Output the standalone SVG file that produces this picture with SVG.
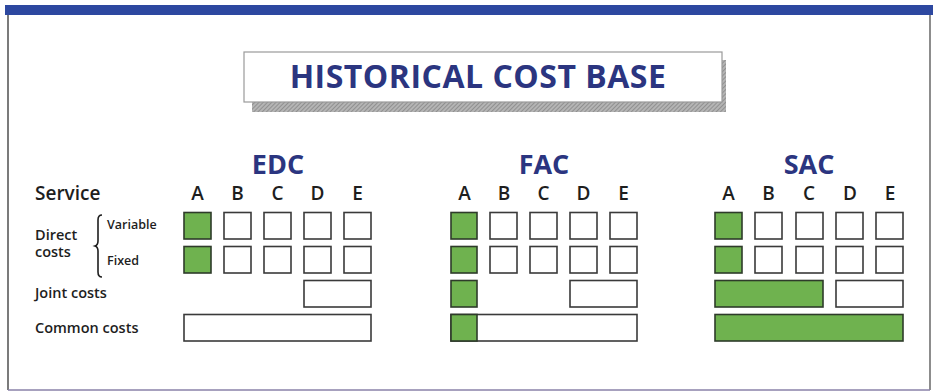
<svg xmlns="http://www.w3.org/2000/svg" width="936" height="392" viewBox="0 0 936 392">
<defs>
<pattern id="hatch" width="3" height="3" patternUnits="userSpaceOnUse" patternTransform="rotate(45)">
<rect width="3" height="3" fill="#b4b4b4"/>
<line x1="0" y1="0" x2="0" y2="3" stroke="#777777" stroke-width="1.2"/>
</pattern>
</defs>
<style>
text{font-family:"Open Sans","Noto Sans","Liberation Sans",sans-serif;font-weight:600;fill:#1e1e1e}
.title{font-size:32px;font-weight:700;fill:#2b3580;letter-spacing:0.5px}
.head{font-size:27px;font-weight:700;fill:#2b3580;text-anchor:middle}
.col{font-size:19px;text-anchor:middle}
.lab{font-size:14.5px}
.sub{font-size:12.5px}
.svc{font-size:19px}
.b{fill:#ffffff;stroke:#3a3a3a;stroke-width:1.6}
.g{fill:#6fb24f;stroke:#2e3b2a;stroke-width:1.6}
</style>
<rect width="936" height="392" fill="#ffffff"/>
<g id="frame">
<rect x="5" y="5" width="928" height="10" fill="#2d48a0"/>
<line x1="8" y1="15" x2="8" y2="390" stroke="#5a5a5a" stroke-width="1.6"/>
<line x1="930" y1="15" x2="930" y2="390" stroke="#707070" stroke-width="1.6"/>
<line x1="8" y1="390" x2="930" y2="390" stroke="#8a82a8" stroke-width="1.6"/>
</g>
<g id="title">
<rect x="252" y="60" width="474" height="52" fill="url(#hatch)"/>
<rect x="244" y="52" width="478" height="50" fill="#ffffff" stroke="#9a9a9a" stroke-width="1.2"/>
<text class="title" x="478" y="88" text-anchor="middle">HISTORICAL COST BASE</text>
</g>
<g id="row-labels">
<text class="svc" x="35" y="200">Service</text>
<text class="lab" x="35" y="240">Direct</text>
<text class="lab" x="35" y="257">costs</text>
<text class="sub" x="107" y="229">Variable</text>
<text class="sub" x="107" y="265">Fixed</text>
<path d="M102,215 Q98,215 98,220 L98,241 Q98,245 95,246 Q98,247 98,251 L98,272 Q98,277 102,277" fill="none" stroke="#1e1e1e" stroke-width="1.6"/>
<text class="lab" x="35" y="298">Joint costs</text>
<text class="lab" x="35" y="333">Common costs</text>
</g>
<g id="edc">
<text class="head" x="278" y="174">EDC</text>
<text class="col" x="197.5" y="200">A</text>
<text class="col" x="237.5" y="200">B</text>
<text class="col" x="277.5" y="200">C</text>
<text class="col" x="317.5" y="200">D</text>
<text class="col" x="357.5" y="200">E</text>
<rect class="g" x="184" y="212.5" width="27" height="26.5"/>
<rect class="b" x="224" y="212.5" width="27" height="26.5"/>
<rect class="b" x="264" y="212.5" width="27" height="26.5"/>
<rect class="b" x="304" y="212.5" width="27" height="26.5"/>
<rect class="b" x="344" y="212.5" width="27" height="26.5"/>
<rect class="g" x="184" y="246.5" width="27" height="26.5"/>
<rect class="b" x="224" y="246.5" width="27" height="26.5"/>
<rect class="b" x="264" y="246.5" width="27" height="26.5"/>
<rect class="b" x="304" y="246.5" width="27" height="26.5"/>
<rect class="b" x="344" y="246.5" width="27" height="26.5"/>
<rect class="b" x="304" y="280.5" width="67" height="26.5"/>
<rect class="b" x="184" y="314.5" width="187" height="26.5"/>
</g>
<g id="fac">
<text class="head" x="544" y="174">FAC</text>
<text class="col" x="464.5" y="200">A</text>
<text class="col" x="504" y="200">B</text>
<text class="col" x="543.5" y="200">C</text>
<text class="col" x="583.5" y="200">D</text>
<text class="col" x="623.5" y="200">E</text>
<rect class="g" x="451" y="212.5" width="26" height="26.5"/>
<rect class="b" x="490" y="212.5" width="27" height="26.5"/>
<rect class="b" x="530" y="212.5" width="27" height="26.5"/>
<rect class="b" x="570" y="212.5" width="27" height="26.5"/>
<rect class="b" x="610" y="212.5" width="27" height="26.5"/>
<rect class="g" x="451" y="246.5" width="26" height="26.5"/>
<rect class="b" x="490" y="246.5" width="27" height="26.5"/>
<rect class="b" x="530" y="246.5" width="27" height="26.5"/>
<rect class="b" x="570" y="246.5" width="27" height="26.5"/>
<rect class="b" x="610" y="246.5" width="27" height="26.5"/>
<rect class="g" x="451" y="280.5" width="26" height="26.5"/>
<rect class="b" x="570" y="280.5" width="67" height="26.5"/>
<rect class="b" x="451" y="314.5" width="186" height="26.5"/>
<rect class="g" x="451" y="314.5" width="26" height="26.5"/>
</g>
<g id="sac">
<text class="head" x="809" y="174">SAC</text>
<text class="col" x="728.5" y="200">A</text>
<text class="col" x="768.5" y="200">B</text>
<text class="col" x="809" y="200">C</text>
<text class="col" x="850" y="200">D</text>
<text class="col" x="890" y="200">E</text>
<rect class="g" x="715" y="212.5" width="27" height="26.5"/>
<rect class="b" x="755" y="212.5" width="27" height="26.5"/>
<rect class="b" x="796" y="212.5" width="27" height="26.5"/>
<rect class="b" x="836" y="212.5" width="27" height="26.5"/>
<rect class="b" x="876" y="212.5" width="27" height="26.5"/>
<rect class="g" x="715" y="246.5" width="27" height="26.5"/>
<rect class="b" x="755" y="246.5" width="27" height="26.5"/>
<rect class="b" x="796" y="246.5" width="27" height="26.5"/>
<rect class="b" x="836" y="246.5" width="27" height="26.5"/>
<rect class="b" x="876" y="246.5" width="27" height="26.5"/>
<rect class="g" x="715" y="280.5" width="108" height="26.5"/>
<rect class="b" x="836" y="280.5" width="67" height="26.5"/>
<rect class="g" x="715" y="314.5" width="188" height="26.5"/>
</g>
<g id="connectors"/>
</svg>
